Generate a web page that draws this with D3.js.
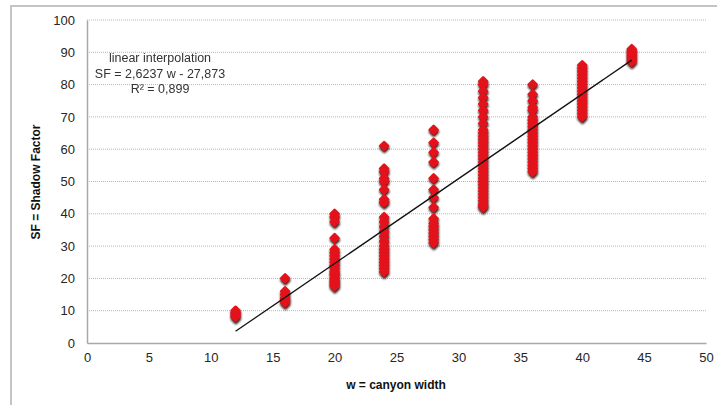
<!DOCTYPE html>
<html>
<head>
<meta charset="utf-8">
<script src="https://cdn.jsdelivr.net/npm/d3@7"></script>
<style>
  body { margin: 0; background: #fff; }
  svg { display: block; font-family: "Liberation Sans", Arial, sans-serif; }
</style>
</head>
<body>
<svg width="717" height="405"></svg>
<script>
// canyon widths (x) and the shadow factors read for each one
const widths = [12, 16, 20, 24, 28, 32, 36, 40, 44];
const sf12 = [8, 8.5, 9, 9.5, 10];
const sf16 = [12.5, 13, 13.5, 14, 15, 16, 20];
const sf20 = [40, 39, 37.5, 32.5, 29, 28, 27, 26, 25, 24, 23, 22, 21.5, 21, 20, 19.5, 19, 18.5, 18, 17.5];
const sf24 = [61, 54, 53, 51, 50, 47.5, 44.5, 43.5, 39, 37.5, 36, 34.5, 33, 31.5, 30, 29, 28, 27, 26, 25, 24, 23, 22];
const sf28 = [66, 62, 59, 56, 51, 47.5, 45, 42, 38.5, 37, 36, 35, 34, 33, 32, 31];
const sf32 = [81, 80, 78, 76, 74, 72, 70, 68, 66, 65, 64, 63, 62, 61, 60, 59, 58, 57, 56, 55, 54, 53, 52, 51, 50, 49, 48, 47, 46, 45, 44, 43, 42.5, 42];
const sf36 = [80, 77, 75, 73, 72, 70, 69, 68, 67, 66, 65, 64, 63, 62, 61, 60, 59, 58, 57, 56, 55, 54, 53];
const sf40 = [86, 85, 84, 83, 82, 81, 80, 79, 78, 77, 76, 75, 74, 73, 72, 71, 70];
const sf44 = [87, 87.5, 88, 88.5, 89, 89.5, 90, 90.5, 91];
const columns = [sf12, sf16, sf20, sf24, sf28, sf32, sf36, sf40, sf44];

const xTicks = [0, 5, 10, 15, 20, 25, 30, 35, 40, 45, 50];
const yTicks = [0, 10, 20, 30, 40, 50, 60, 70, 80, 90, 100];

// fit line from the chart label
const slope = 2.6237, intercept = -27.873;
const fitLabel = ["linear interpolation", "SF = 2,6237 w - 27,873", "R\u00b2 = 0,899"];

const points = [];
widths.forEach((w, i) => columns[i].forEach(v => points.push({w: w, sf: v})));

const svg = d3.select("svg");

// soft shadow under markers
svg.append("defs").append("filter")
    .attr("id", "soft")
    .attr("x", "-50%").attr("y", "-50%")
    .attr("width", "200%").attr("height", "200%")
    .append("feGaussianBlur")
    .attr("stdDeviation", 0.9);

// outer frame
svg.append("rect")
    .attr("x", 11).attr("y", 6)
    .attr("width", 720).attr("height", 410)
    .attr("fill", "none")
    .attr("stroke", "#c4c4c4")
    .attr("stroke-width", 2);

const pLeft = 87, pRight = 706, pTop = 20, pBottom = 343;

const x = d3.scaleLinear().domain([0, 50]).range([pLeft, pRight]);
const y = d3.scaleLinear().domain([0, 100]).range([pBottom, pTop]);

// dotted gridlines
svg.append("g")
    .selectAll("line")
    .data(yTicks.filter(d => d > 0))
    .join("line")
    .attr("x1", pLeft).attr("x2", pRight)
    .attr("y1", d => y(d)).attr("y2", d => y(d))
    .attr("stroke", "#b5b5b5")
    .attr("stroke-width", 1)
    .attr("stroke-dasharray", "1,1");

let yAxis = svg.append("g")
    .attr("transform", `translate(${pLeft},0)`)
    .call(d3.axisLeft(y).tickValues(yTicks).tickSize(0).tickPadding(12));
yAxis.select(".domain").attr("stroke", "#a8a8a8").attr("stroke-width", 1.5);
yAxis.selectAll(".tick text")
    .attr("font-size", 13)
    .attr("fill", "#262626");

let xAxis = svg.append("g")
    .attr("transform", `translate(0,${pBottom})`)
    .call(d3.axisBottom(x).tickValues(xTicks).tickSize(0).tickPadding(10));
xAxis.select(".domain").attr("stroke", "#a8a8a8").attr("stroke-width", 1.5);
xAxis.selectAll(".tick text")
    .attr("font-size", 13)
    .attr("fill", "#262626");

// axis titles
svg.append("text")
    .attr("x", 396).attr("y", 389)
    .attr("text-anchor", "middle")
    .attr("font-size", 12)
    .attr("font-weight", "bold")
    .attr("fill", "#111")
    .text("w = canyon width");

svg.append("text")
    .attr("transform", `translate(40,182) rotate(-90)`)
    .attr("text-anchor", "middle")
    .attr("font-size", 12)
    .attr("font-weight", "bold")
    .attr("fill", "#111")
    .text("SF = Shadow Factor");

// markers: shadows first, then red diamonds
const diamond = d3.symbol().type(d3.symbolDiamond2).size(40);

svg.append("g")
    .attr("filter", "url(#soft)")
    .selectAll("path")
    .data(points)
    .join("path")
    .attr("d", diamond)
    .attr("transform", d => `translate(${x(d.w) + 0.3},${y(d.sf) + 2})`)
    .attr("fill", "#301010")
    .attr("stroke", "#301010")
    .attr("stroke-width", 2.5)
    .attr("stroke-linejoin", "round");

svg.append("g")
    .selectAll("path")
    .data(points)
    .join("path")
    .attr("d", diamond)
    .attr("transform", d => `translate(${x(d.w)},${y(d.sf)})`)
    .attr("fill", "#e3121b")
    .attr("stroke", "#e3121b")
    .attr("stroke-width", 2.5)
    .attr("stroke-linejoin", "round");

// regression line
svg.append("line")
    .attr("x1", x(12)).attr("y1", y(slope * 12 + intercept))
    .attr("x2", x(44)).attr("y2", y(slope * 44 + intercept))
    .attr("stroke", "#111")
    .attr("stroke-width", 1.3);

// fit label
svg.append("g")
    .selectAll("text")
    .data(fitLabel)
    .join("text")
    .attr("x", 160)
    .attr("y", (d, i) => 62 + i * 15.5)
    .attr("text-anchor", "middle")
    .attr("font-size", 12.5)
    .attr("fill", "#333")
    .text(d => d);
</script>
</body>
</html>
